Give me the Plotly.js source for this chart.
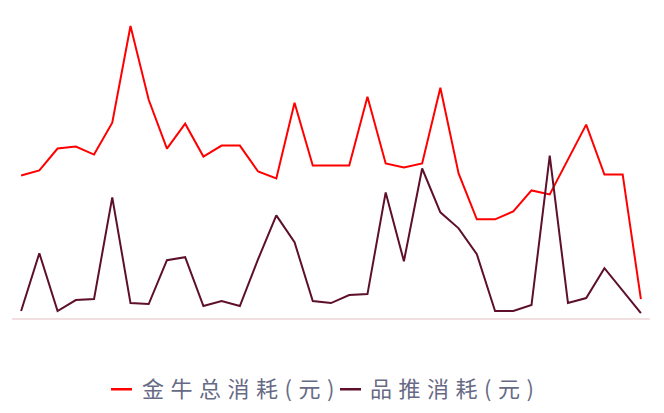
<!DOCTYPE html>
<html>
<head>
<meta charset="utf-8">
<script src="https://cdn.plot.ly/plotly-3.0.1.min.js"></script>
<style>
html,body{margin:0;padding:0;background:#fff;}
#chart{width:664px;height:413px;}
.annotation-text{letter-spacing:6.5px;}
</style>
</head>
<body>
<div id="chart"></div>
<script>
const categories = ['1','2','3','4','5','6','7','8','9','10','11','12','13','14','15','16','17','18','19','20','21','22','23','24','25','26','27','28','29','30','31','32','33','34','35'];
const jinniuCost = [143,148,170,172,164,196,293,219,170,195,162,173,173,147,140,216,153,153,153,222,155,151,155,231,145,99,99,107,128,124,159,194,144,144,19];
const pintuiCost = [7,65,7,18,19,121,15,14,58,61,12,17,12,59,103,76,17,15,23,24,126,57,150,106,90,64,7,7,13,163,15,20,50,27,5];
const seriesNames = ['金牛总消耗(元)','品推消耗(元)'];
const seriesColors = ['#ff0000','#5e0f2c'];

const W = 664, H = 413;
const L = 12, R = 650, T = 18.5, B = 318.5;
const px = x => (x - L) / (R - L);
const py = y => (B - y) / (B - T);

const traces = [
  {x: categories, y: jinniuCost, name: seriesNames[0], type: 'scatter', mode: 'lines',
   line: {color: seriesColors[0], width: 2}, showlegend: false},
  {x: categories, y: pintuiCost, name: seriesNames[1], type: 'scatter', mode: 'lines',
   line: {color: seriesColors[1], width: 2}, showlegend: false}
];

const legendFont = {family: '"Noto Sans CJK SC", "Noto Sans", sans-serif', size: 22, color: '#676a85'};

const layout = {
  width: W, height: H,
  margin: {l: L, r: W - R, t: T, b: H - B, pad: 0},
  paper_bgcolor: '#ffffff', plot_bgcolor: '#ffffff',
  xaxis: {type: 'category', range: [-0.5, 34.5], showgrid: false, zeroline: false,
          showticklabels: false, ticks: '', showline: true, linecolor: '#f1dfe2', linewidth: 1.5, fixedrange: true},
  yaxis: {range: [0, 300], showgrid: false, zeroline: false, showticklabels: false, ticks: '', showline: false, fixedrange: true},
  shapes: [
    {type: 'line', xref: 'paper', yref: 'paper', x0: px(111), x1: px(132), y0: py(390), y1: py(390),
     line: {color: seriesColors[0], width: 2.5}},
    {type: 'line', xref: 'paper', yref: 'paper', x0: px(340), x1: px(361), y0: py(390), y1: py(390),
     line: {color: seriesColors[1], width: 2.5}}
  ],
  annotations: [
    {xref: 'paper', yref: 'paper', x: px(140), y: py(387.5), xanchor: 'left', yanchor: 'middle',
     text: seriesNames[0], showarrow: false, font: legendFont},
    {xref: 'paper', yref: 'paper', x: px(368), y: py(387.5), xanchor: 'left', yanchor: 'middle',
     text: seriesNames[1], showarrow: false, font: legendFont}
  ],
  showlegend: false
};

Plotly.newPlot('chart', traces, layout, {displayModeBar: false, staticPlot: true});
</script>
</body>
</html>
